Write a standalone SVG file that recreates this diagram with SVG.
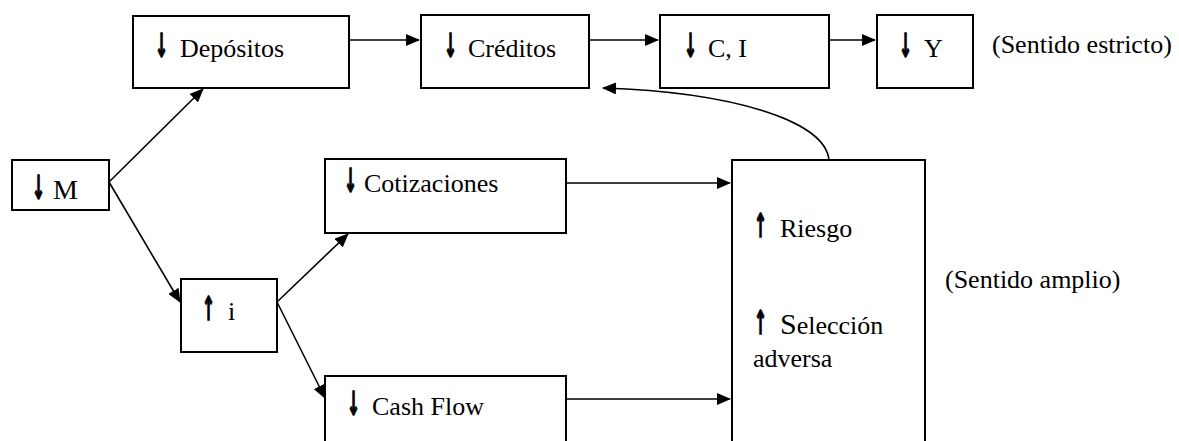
<svg xmlns="http://www.w3.org/2000/svg" width="1179" height="441" viewBox="0 0 1179 441">
<style>
.box{fill:#fff;stroke:#000;stroke-width:2}
.t{font-family:"Liberation Serif","Times New Roman",serif;font-size:26px;fill:#000}
.ar{font-family:"DejaVu Sans",sans-serif;font-size:33px;font-weight:bold;fill:#000;stroke:#000;stroke-width:1.4}
.c{fill:none;stroke:#000;stroke-width:1.6}
</style>
<defs>
<marker id="ah" markerWidth="14" markerHeight="12" refX="13" refY="6" orient="auto" markerUnits="userSpaceOnUse">
<path d="M0,0 L14,6 L0,12 Z" fill="#000"/>
</marker>
</defs>
<rect width="1179" height="441" fill="#fff"/>
<g id="connectors">
<line class="c" x1="349" y1="40" x2="419" y2="40" marker-end="url(#ah)"/>
<line class="c" x1="589" y1="40" x2="658" y2="40" marker-end="url(#ah)"/>
<line class="c" x1="829" y1="40" x2="875" y2="40" marker-end="url(#ah)"/>
<line class="c" x1="109" y1="182" x2="203" y2="89" marker-end="url(#ah)"/>
<line class="c" x1="109" y1="182" x2="180" y2="302" marker-end="url(#ah)"/>
<line class="c" x1="277" y1="302" x2="348" y2="234" marker-end="url(#ah)"/>
<line class="c" x1="277" y1="302" x2="325" y2="398" marker-end="url(#ah)"/>
<line class="c" x1="566" y1="183" x2="730" y2="183" marker-end="url(#ah)"/>
<line class="c" x1="566" y1="399" x2="730" y2="399" marker-end="url(#ah)"/>
<path class="c" d="M829,160 C825,120 730,92 603,88" marker-end="url(#ah)"/>
</g>
<g id="depositos">
<rect class="box" x="133" y="16" width="216" height="72"/>
<text class="t" y="57"><tspan class="ar" x="155" textLength="13" lengthAdjust="spacingAndGlyphs">↓</tspan><tspan x="180">Depósitos</tspan></text>
</g>
<g id="creditos">
<rect class="box" x="421" y="15" width="168" height="73"/>
<text class="t" y="57"><tspan class="ar" x="444" textLength="13" lengthAdjust="spacingAndGlyphs">↓</tspan><tspan x="468">Créditos</tspan></text>
</g>
<g id="ci">
<rect class="box" x="660" y="15" width="169" height="73"/>
<text class="t" y="57"><tspan class="ar" x="684" textLength="13" lengthAdjust="spacingAndGlyphs">↓</tspan><tspan x="708">C, I</tspan></text>
</g>
<g id="y">
<rect class="box" x="877" y="15" width="96" height="73"/>
<text class="t" y="57"><tspan class="ar" x="899" textLength="13" lengthAdjust="spacingAndGlyphs">↓</tspan><tspan x="924">Y</tspan></text>
</g>
<g id="estricto">
<text class="t" x="992" y="53">(Sentido estricto)</text>
</g>
<g id="m">
<rect class="box" x="12" y="160" width="97" height="50"/>
<text class="t" y="199"><tspan class="ar" x="32" textLength="13" lengthAdjust="spacingAndGlyphs">↓</tspan><tspan x="53" style="font-size:28px">M</tspan></text>
</g>
<g id="i">
<rect class="box" x="181" y="279" width="96" height="73"/>
<text class="t" y="320"><tspan class="ar" x="202" textLength="13" lengthAdjust="spacingAndGlyphs">↑</tspan><tspan x="228">i</tspan></text>
</g>
<g id="cotizaciones">
<rect class="box" x="325" y="159" width="241" height="74"/>
<text class="t" y="192"><tspan class="ar" x="344" textLength="13" lengthAdjust="spacingAndGlyphs">↓</tspan><tspan x="364">Cotizaciones</tspan></text>
</g>
<g id="cashflow">
<rect class="box" x="325" y="376" width="241" height="80"/>
<text class="t" y="415"><tspan class="ar" x="347" textLength="13" lengthAdjust="spacingAndGlyphs">↓</tspan><tspan x="372">Cash Flow</tspan></text>
</g>
<g id="riesgo">
<rect class="box" x="732" y="160" width="193" height="300"/>
<text class="t" y="237"><tspan class="ar" x="754" textLength="13" lengthAdjust="spacingAndGlyphs">↑</tspan><tspan x="780">Riesgo</tspan></text>
<text class="t" y="334"><tspan class="ar" x="754" textLength="13" lengthAdjust="spacingAndGlyphs">↑</tspan><tspan x="780" style="font-size:30px">S</tspan><tspan>elección</tspan></text>
<text class="t" x="753" y="367">adversa</text>
</g>
<g id="amplio">
<text class="t" x="945" y="288">(Sentido amplio)</text>
</g>
</svg>
